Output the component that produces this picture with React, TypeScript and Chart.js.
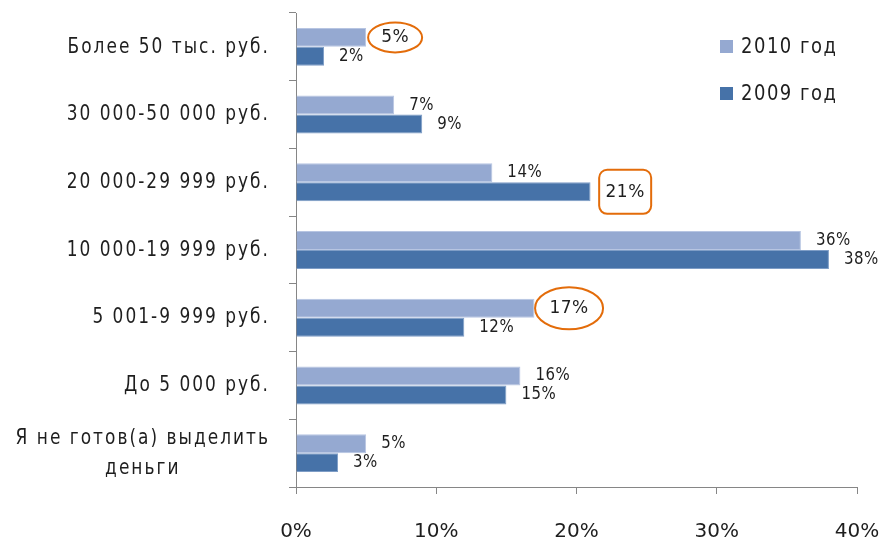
import React, { useEffect, useRef } from 'react';
import { Chart, registerables } from 'chart.js';

Chart.register(...registerables);

const categories: (string | string[])[] = [
  'Более 50 тыс. руб.',
  '30 000-50 000 руб.',
  '20 000-29 999 руб.',
  '10 000-19 999 руб.',
  '5 001-9 999 руб.',
  'До 5 000 руб.',
  ['Я не готов(а) выделить', 'деньги'],
];
const series2010 = [5, 7, 14, 36, 17, 16, 5];
const series2009 = [2, 9, 21, 38, 12, 15, 3];
const seriesNames = ['2010 год', '2009 год'];
const xTickMin = 0;
const xTickMax = 40;
const xTickStep = 10;
// highlighted data labels: [datasetIndex, categoryIndex, shape]
const highlights: [number, number, string][] = [
  [0, 0, 'ellipse'],
  [1, 2, 'box'],
  [0, 4, 'ellipse'],
];

const COLORS = ['#95A9D1', '#4672A8'];
const BORDERS = ['#B7C5E2', '#7E9DC6'];
const FONT = '"DejaVu Sans", sans-serif';
const TEXT = '#1E1E1E';
const AXIS = '#868686';
const ORANGE = '#E36C0A';

const shapeSize: Record<string, { rx: number; ry: number }> = {
  '0-0': { rx: 27, ry: 15 },
  '1-2': { rx: 26, ry: 22 },
  '0-4': { rx: 34, ry: 21 },
};

function drawText(ctx: CanvasRenderingContext2D, text: string, x: number, y: number, stretch: number) {
  ctx.save();
  ctx.translate(x, y);
  ctx.scale(1, stretch);
  ctx.fillText(text, 0, 0);
  ctx.restore();
}

const customPlugin = {
  id: 'custom',
  afterDraw(chart: any) {
    const ctx: CanvasRenderingContext2D = chart.ctx;
    const yScale = chart.scales.y;
    ctx.save();
    // category labels
    ctx.fillStyle = TEXT;
    ctx.font = `17px ${FONT}`;
    (ctx as any).letterSpacing = '2px';
    ctx.textBaseline = 'middle';
    const rightX = 270;
    categories.forEach((lab, i) => {
      const py = yScale.getPixelForValue(i);
      if (Array.isArray(lab)) {
        const w = ctx.measureText(lab[0]).width;
        const cx = rightX - w / 2;
        ctx.textAlign = 'center';
        const lh = 30;
        lab.forEach((line, k) => {
          drawText(ctx, line, cx, py + (k - (lab.length - 1) / 2) * lh, 1.28);
        });
      } else {
        ctx.textAlign = 'right';
        drawText(ctx, lab, rightX, py, 1.28);
      }
    });

    // data labels
    ctx.textAlign = 'left';
    (ctx as any).letterSpacing = '0.5px';
    chart.data.datasets.forEach((ds: any, di: number) => {
      const meta = chart.getDatasetMeta(di);
      meta.data.forEach((bar: any, i: number) => {
        const key = `${di}-${i}`;
        const hl = highlights.find((h) => h[0] === di && h[1] === i);
        ctx.font = hl ? `17px ${FONT}` : `15px ${FONT}`;
        const txt = `${ds.data[i]}%`;
        const x0 = bar.x + 15;
        const w = ctx.measureText(txt).width;
        ctx.fillStyle = TEXT;
        drawText(ctx, txt, x0, bar.y, hl ? 1.08 : 1.15);
        if (hl) {
          const s = shapeSize[key] || { rx: w / 2 + 12, ry: 15 };
          const cx = x0 + w / 2;
          const cy = bar.y;
          ctx.strokeStyle = ORANGE;
          ctx.lineWidth = 2;
          ctx.beginPath();
          if (hl[2] === 'ellipse') {
            ctx.ellipse(cx, cy, s.rx, s.ry, 0, 0, Math.PI * 2);
          } else {
            (ctx as any).roundRect(cx - s.rx, cy - s.ry, s.rx * 2, s.ry * 2, 8);
          }
          ctx.stroke();
        }
      });
    });

    // legend
    ctx.font = `18px ${FONT}`;
    (ctx as any).letterSpacing = '1.5px';
    seriesNames.forEach((name, k) => {
      const sy = 40 + k * 47;
      ctx.fillStyle = COLORS[k];
      ctx.fillRect(720, sy, 13, 13);
      ctx.fillStyle = TEXT;
      ctx.textAlign = 'left';
      drawText(ctx, name, 741, sy + 7, 1.2);
    });
    ctx.restore();
  },
};

export default function App() {
  const ref = useRef<HTMLCanvasElement>(null);
  useEffect(() => {
    if (!ref.current) return;
    const chart = new Chart(ref.current, {
      type: 'bar',
      data: {
        labels: categories as any,
        datasets: [
          {
            label: seriesNames[0],
            data: series2010,
            backgroundColor: COLORS[0],
            borderColor: BORDERS[0],
            borderWidth: 1,
            categoryPercentage: 0.56,
            barPercentage: 1,
          },
          {
            label: seriesNames[1],
            data: series2009,
            backgroundColor: COLORS[1],
            borderColor: BORDERS[1],
            borderWidth: 1,
            categoryPercentage: 0.56,
            barPercentage: 1,
          },
        ],
      },
      options: {
        indexAxis: 'y',
        animation: false,
        responsive: false,
        events: [],
        layout: { padding: { left: 289, right: 25, top: 13, bottom: -29 } },
        plugins: { legend: { display: false }, tooltip: { enabled: false } },
        scales: {
          x: {
            min: xTickMin,
            max: xTickMax,
            afterFit: (scale: any) => {
              scale.paddingRight = 0;
              scale.paddingLeft = 0;
            },
            ticks: {
              stepSize: xTickStep,
              callback: (v: any) => `${v}%`,
              padding: 26,
              font: { family: FONT, size: 20 },
              color: TEXT,
              maxRotation: 0,
            },
            grid: { drawOnChartArea: false, tickLength: 7, color: AXIS },
            border: { color: AXIS, width: 1 },
          },
          y: {
            ticks: { display: false },
            grid: { drawOnChartArea: false, tickLength: 7, color: AXIS, offset: true },
            border: { color: AXIS, width: 1 },
          },
        },
      } as any,
      plugins: [customPlugin],
    });
    return () => chart.destroy();
  }, []);
  return (
    <canvas
      ref={ref}
      width={882}
      height={541}
      style={{ position: 'absolute', left: 0, top: 0, width: 882, height: 541, background: '#fff' }}
    />
  );
}
